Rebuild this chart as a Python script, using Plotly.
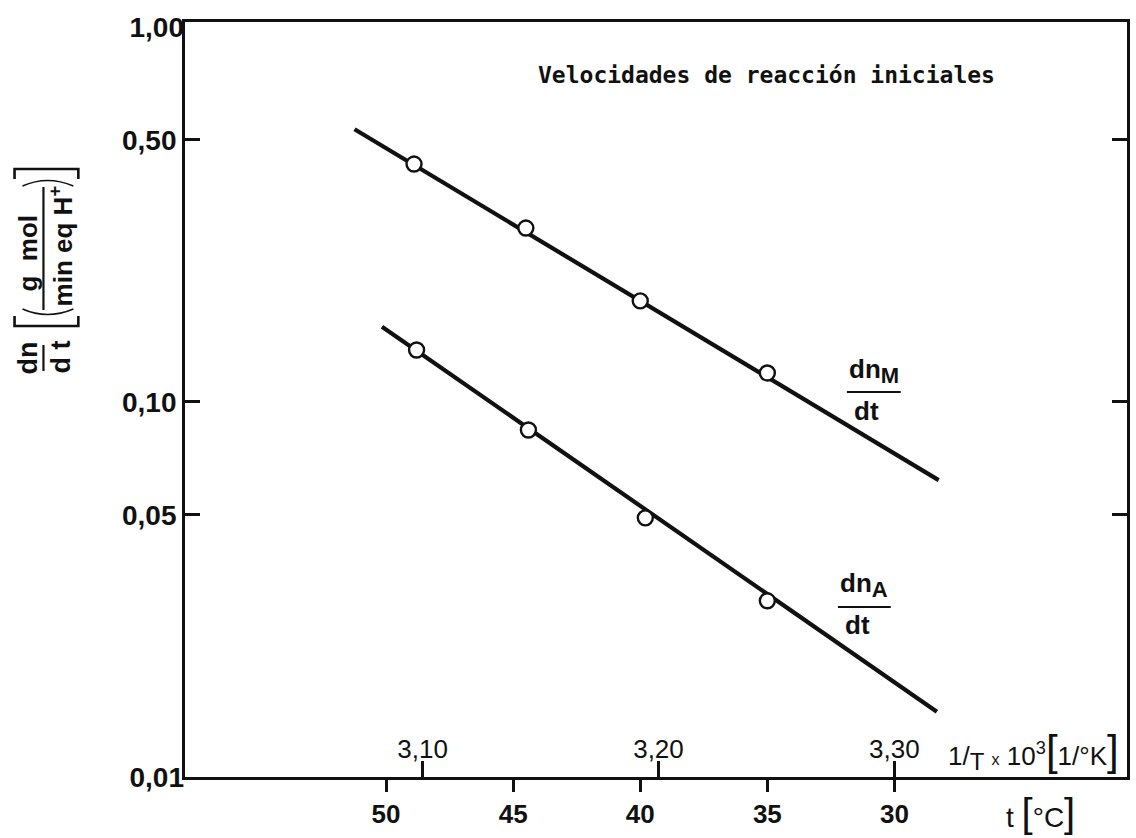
import plotly.graph_objects as go

# --- data -------------------------------------------------------------
# measured initial rates (g mol / min eq H+) vs temperature (°C)
t_M = [48.9, 44.5, 40.0, 35.0]
rate_M = [0.431, 0.291, 0.186, 0.1195]
t_A = [48.8, 44.4, 39.8, 35.0]
rate_A = [0.1376, 0.0842, 0.0491, 0.0295]

# fitted Arrhenius lines (end points)
fit_t_M = [51.24, 28.26]
fit_rate_M = [0.5335, 0.0619]
fit_t_A = [50.16, 28.33]
fit_rate_A = [0.1588, 0.01493]

# axis ticks
t_ticks = [50, 45, 40, 35, 30]
invT_ticks = [3.10, 3.20, 3.30]
invT_labels = ["3,10", "3,20", "3,30"]
rate_ticks = [0.05, 0.10, 0.50]
rate_labels = ["0,05", "0,10", "0,50"]
corner_ticks = [0.01, 1.00]
corner_labels = ["0,01", "1,00"]

# --- layout geometry (pixels) ----------------------------------------
W, H = 1136, 838
L, R, T, B = 185, 1130, 22, 777
FONT = "Liberation Sans Narrow, Arial Narrow, Liberation Sans, sans-serif"
MONO = "DejaVu Sans Mono, monospace"
INK = "#111111"
WT = 600


def px(x):
    return (x - L) / (R - L)


def py(y):
    return (B - y) / (B - T)


fig = go.Figure()

for xs, ys in [(fit_t_M, fit_rate_M), (fit_t_A, fit_rate_A)]:
    fig.add_trace(go.Scatter(x=xs, y=ys, mode="lines",
                             line=dict(color=INK, width=4.2),
                             hoverinfo="skip", showlegend=False))

for xs, ys in [(t_M, rate_M), (t_A, rate_A)]:
    fig.add_trace(go.Scatter(x=xs, y=ys, mode="markers",
                             marker=dict(symbol="circle", size=15, color="white",
                                         line=dict(color=INK, width=2.4)),
                             showlegend=False))

# invisible trace to activate the 1/T scale
fig.add_trace(go.Scatter(x=[3.2], y=[0.1], xaxis="x2", yaxis="y", mode="markers",
                         marker=dict(opacity=0), hoverinfo="skip", showlegend=False))
# invisible trace for the corner labels axis
fig.add_trace(go.Scatter(x=[40], y=[0.1], xaxis="x", yaxis="y2", mode="markers",
                         marker=dict(opacity=0), hoverinfo="skip", showlegend=False))

tick_font = dict(size=28, family=FONT, color=INK, weight=WT)

fig.update_layout(
    width=W, height=H,
    margin=dict(l=L, r=W - R, t=T, b=H - B),
    paper_bgcolor="white", plot_bgcolor="white",
    font=dict(family=FONT, color=INK),
    xaxis=dict(range=[57.91, 20.85], tickvals=t_ticks,
               ticktext=[str(v) for v in t_ticks],
               ticks="outside", ticklen=12, tickwidth=2.5, tickcolor=INK,
               showline=True, linewidth=2.8, linecolor=INK, mirror=True,
               showgrid=False, zeroline=False,
               tickfont=dict(tick_font, size=26)),
    xaxis2=dict(range=[2.9993, 3.3986], overlaying="x", side="bottom", anchor="y",
                tickvals=invT_ticks, ticktext=invT_labels,
                ticks="inside", ticklen=16, tickwidth=2.5, tickcolor=INK,
                ticklabelposition="inside",
                showline=False, showgrid=False, zeroline=False,
                tickfont=dict(size=26, family=FONT, color=INK)),
    yaxis=dict(type="log", range=[-2, 0.0133], tickvals=rate_ticks,
               ticktext=rate_labels,
               ticks="inside", ticklen=15, tickwidth=2.5, tickcolor=INK,
               showline=True, linewidth=2.8, linecolor=INK, mirror="ticks",
               showgrid=False, zeroline=False,
               tickfont=tick_font),
    yaxis2=dict(type="log", range=[-2, 0.0133], overlaying="y", side="left",
                anchor="x", tickvals=corner_ticks, ticktext=corner_labels,
                ticks="", showline=False, showgrid=False, zeroline=False,
                tickfont=tick_font),
)

ann = []


def text(x, y, s, size, angle=0, family=FONT, weight=WT):
    ann.append(dict(x=px(x), y=py(y), xref="paper", yref="paper", text=s,
                    showarrow=False, textangle=angle, xanchor="center",
                    yanchor="middle",
                    font=dict(size=size, family=family, color=INK, weight=weight)))


def bar(x0, y0, x1, y1, w=2.2):
    fig.add_shape(type="line", xref="paper", yref="paper",
                  x0=px(x0), y0=py(y0), x1=px(x1), y1=py(y1),
                  line=dict(color=INK, width=w))


def path(points, w=2.0, curve=False):
    # points in pixel coordinates; converted to paper units
    pts = [(px(x), py(y)) for x, y in points]
    if curve:
        (a, b), (c, d), (e, f) = pts
        d_str = f"M {a},{b} Q {c},{d} {e},{f}"
    else:
        d_str = "M " + " L ".join(f"{a},{b}" for a, b in pts)
    fig.add_shape(type="path", xref="paper", yref="paper", path=d_str,
                  line=dict(color=INK, width=w))


# title inside the frame
text(768, 75, "Velocidades de reacción iniciales", 23, family=MONO)

# series labels
text(876, 371, "dn<sub><span style='font-size:22px'>M</span></sub>", 26)
bar(849, 392, 903, 392)
text(869, 411, "dt", 26)
text(866, 585, "dn<sub><span style='font-size:22px'>A</span></sub>", 26)
bar(840, 607, 893, 607)
text(860, 625, "dt", 26)

# axis names
text(1036, 751, "1/<sub><span style='font-size:24px'>T</span></sub> "
     "<span style='font-size:16px'>x</span> 10<sup>3</sup>"
     "<span style='font-size:42px;font-weight:400'>[</span>1/°K"
     "<span style='font-size:42px;font-weight:400'>]</span>", 26, weight=400)
text(1043, 813, "t <span style='font-size:40px;font-weight:400'>[</span>°C"
     "<span style='font-size:40px;font-weight:400'>]</span>", 28, weight=400)

# rotated y title: dn/dt [ (g mol / min eq H+) ]
text(28, 358, "dn", 27, angle=-90)
text(61, 357, "d t", 27, angle=-90)
bar(43, 345, 43, 371)
text(28, 253, "g  mol", 26, angle=-90)
bar(43, 187, 43, 310)
text(61, 246, "min eq H<sup>+</sup>", 26, angle=-90)
# square brackets and parentheses drawn as strokes
path([(14, 316), (14, 326), (78, 326), (78, 316)], w=2.6)
path([(14, 179), (14, 169), (78, 169), (78, 179)], w=2.6)
path([(22, 309), (47, 320), (73, 309)], w=1.6, curve=True)
path([(22, 186), (47, 175), (73, 186)], w=1.6, curve=True)

fig.update_layout(annotations=ann)

fig.write_html("out.html")
